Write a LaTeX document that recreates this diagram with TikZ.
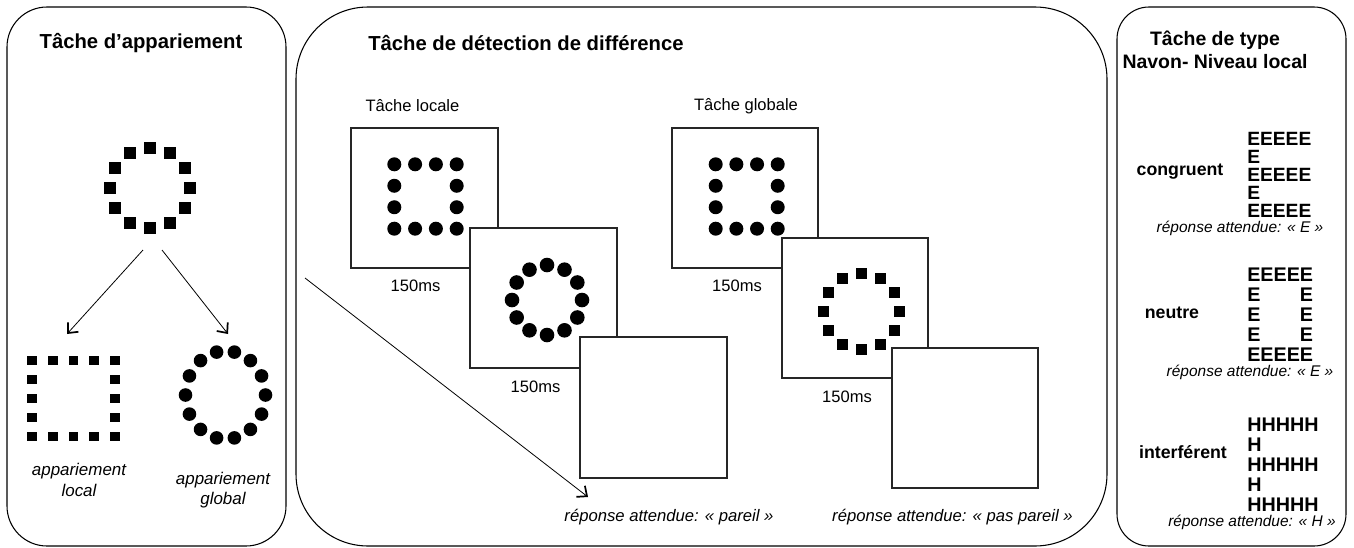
\documentclass[tikz,border=0pt]{standalone}
\usepackage{fontspec}
\setmainfont{Liberation Sans}
\usetikzlibrary{arrows.meta}

\tikzset{
  panel/.style={draw, line width=0.8pt},
  ecran/.style={draw=black!85, fill=white, line width=0.9pt},
  fleche/.style={-{Straight Barb[length=6pt,width=10.5pt,line width=1.3pt]}, line width=0.6pt},
  titre/.style={font=\fontsize{15.2}{18}\selectfont\bfseries, inner sep=0pt},
  titrenavon/.style={font=\fontsize{14.6}{17.3}\selectfont\bfseries, align=center, inner sep=0pt},
  legende/.style={font=\fontsize{12.4}{15}\selectfont, inner sep=0pt},
  appar/.style={font=\fontsize{12.7}{15.3}\selectfont\itshape, align=center, inner sep=0pt},
  reponse/.style={font=\fontsize{12.5}{15}\selectfont\itshape, inner sep=0pt},
  reponsenavon/.style={font=\fontsize{11.6}{14}\selectfont\itshape, inner sep=0pt},
  condition/.style={font=\fontsize{13.3}{16}\selectfont\bfseries, inner sep=0pt},
  lettres/.style={font=\fontsize{14.8}{15}\selectfont\bfseries, align=left, inner sep=0pt},
  lettresserre/.style={lettres, font=\fontsize{14.4}{13.6}\selectfont\bfseries}
}

\begin{document}
\begin{tikzpicture}[x=0.75pt,y=-0.75pt]
\useasboundingbox (0,0) rectangle (1354,547);

%% panels
\draw[panel, rounded corners=30pt] (7,7) rectangle (286,546);      %% appariement
\draw[panel, rounded corners=54pt] (296,7) rectangle (1107,546);   %% detection
\draw[panel, rounded corners=24pt] (1117,7) rectangle (1346,546);  %% navon

%% titles
\node[titre] (tappar) at (141,43) {Tâche d’appariement};
\node[titre, anchor=west] (tdetect) at (368,43) {Tâche de détection de différence};
\node[titrenavon] (tnavon) at (1215,50) {Tâche de type\\Navon- Niveau local};

%%% tache d'appariement
%% ring of squares
\foreach \a in {0,30,...,330}
  \fill[shift={(150,188)}] (\a:40) +(-6,-6) rectangle +(6,6);

%% square of squares (local)
\foreach \i in {0,...,4} {
  \fill[shift={(32+20.75*\i,360.5)}] (-4.9,-4.9) rectangle (4.9,4.9);
  \fill[shift={(32+20.75*\i,436.5)}] (-4.9,-4.9) rectangle (4.9,4.9);
}
\foreach \j in {1,2,3} {
  \fill[shift={(32,360.5+19*\j)}] (-4.9,-4.9) rectangle (4.9,4.9);
  \fill[shift={(115,360.5+19*\j)}] (-4.9,-4.9) rectangle (4.9,4.9);
}

%% ring of circles (global)
\foreach \k in {0,...,13}
  \fill ({225.5+40*cos(\k*360/14)},{395+44*sin(\k*360/14)}) circle (6.8);

%% arrows
\coordinate (srcloc) at (143,250);
\coordinate (dstloc) at (67,334);
\coordinate (srcglob) at (162,250);
\coordinate (dstglob) at (228,334);
\draw[fleche] (srcloc) -- (dstloc);
\draw[fleche] (srcglob) -- (dstglob);

\node[appar] (alocal) at (79,480) {appariement\\local};
\node[appar] (aglobal) at (223,490) {appariement\\global};

%%% tache de detection
\node[legende] (tlocale) at (412.5,106) {Tâche locale};
\node[legende] (tglobale) at (746,106) {Tâche globale};

%% local: screens
\draw[ecran] (351,128) rectangle (498,268);   %% e1
\foreach \i in {0,...,3} {
  \fill (394.3+20.8*\i,164.3) circle (7);
  \fill (394.3+20.8*\i,228.7) circle (7);
}
\foreach \j in {1,2} {
  \fill (394.3,164.3+21.47*\j) circle (7);
  \fill (456.7,164.3+21.47*\j) circle (7);
}
\draw[ecran] (470,228) rectangle (617,368);   %% e2
\foreach \a in {0,30,...,330}
  \fill ({547+35*cos(\a)},{300+35*sin(\a)}) circle (7.3);
\draw[ecran] (580,337) rectangle (727,478);   %% e3

\node[legende] (ms1) at (415.5,286) {150ms};
\node[legende] (ms2) at (535.5,387) {150ms};

%% global: screens
\draw[ecran] (672,128) rectangle (818,268);   %% e4
\foreach \i in {0,...,3} {
  \fill (715.7+20.67*\i,164.3) circle (7);
  \fill (715.7+20.67*\i,228.7) circle (7);
}
\foreach \j in {1,2} {
  \fill (715.7,164.3+21.47*\j) circle (7);
  \fill (777.7,164.3+21.47*\j) circle (7);
}
\draw[ecran] (782,238) rectangle (928,378);   %% e5
\foreach \a in {0,30,...,330}
  \fill[shift={(861.5,311.7)}] (\a:38) +(-5.7,-5.7) rectangle +(5.7,5.7);
\draw[ecran] (892,348) rectangle (1038,488);  %% e6

\node[legende] (ms3) at (737,286) {150ms};
\node[legende] (ms4) at (847,397) {150ms};

%% long arrow
\coordinate (srcrep) at (305,278);
\coordinate (dstrep) at (588,497);
\draw[fleche] (srcrep) -- (dstrep);

\node[reponse] (rpareil) at (669,517) {réponse attendue: « pareil »};
\node[reponse] (rpaspareil) at (952.5,517) {réponse attendue: « pas pareil »};

%%% navon
\node[condition] (ccongru) at (1180,172) {congruent};
\node[lettresserre, anchor=west] (bcongru) at (1247,175) {EEEEE\\E\\EEEEE\\E\\EEEEE};
\node[reponsenavon] (rcongru) at (1240,228) {réponse attendue: « E »};

\node[condition] (cneutre) at (1172,313) {neutre};
\node[lettres, anchor=west] (bneutre) at (1247,315) {EEEEE\\E\hphantom{EEE}E\\E\hphantom{EEE}E\\E\hphantom{EEE}E\\EEEEE};
\node[reponsenavon] (rneutre) at (1250,372) {réponse attendue: « E »};

\node[condition] (cinterf) at (1183,452) {interférent};
\node[lettres, anchor=west] (binterf) at (1247,465) {HHHHH\\H\\HHHHH\\H\\HHHHH};
\node[reponsenavon] (rinterf) at (1252,522) {réponse attendue: « H »};

\end{tikzpicture}
\end{document}
